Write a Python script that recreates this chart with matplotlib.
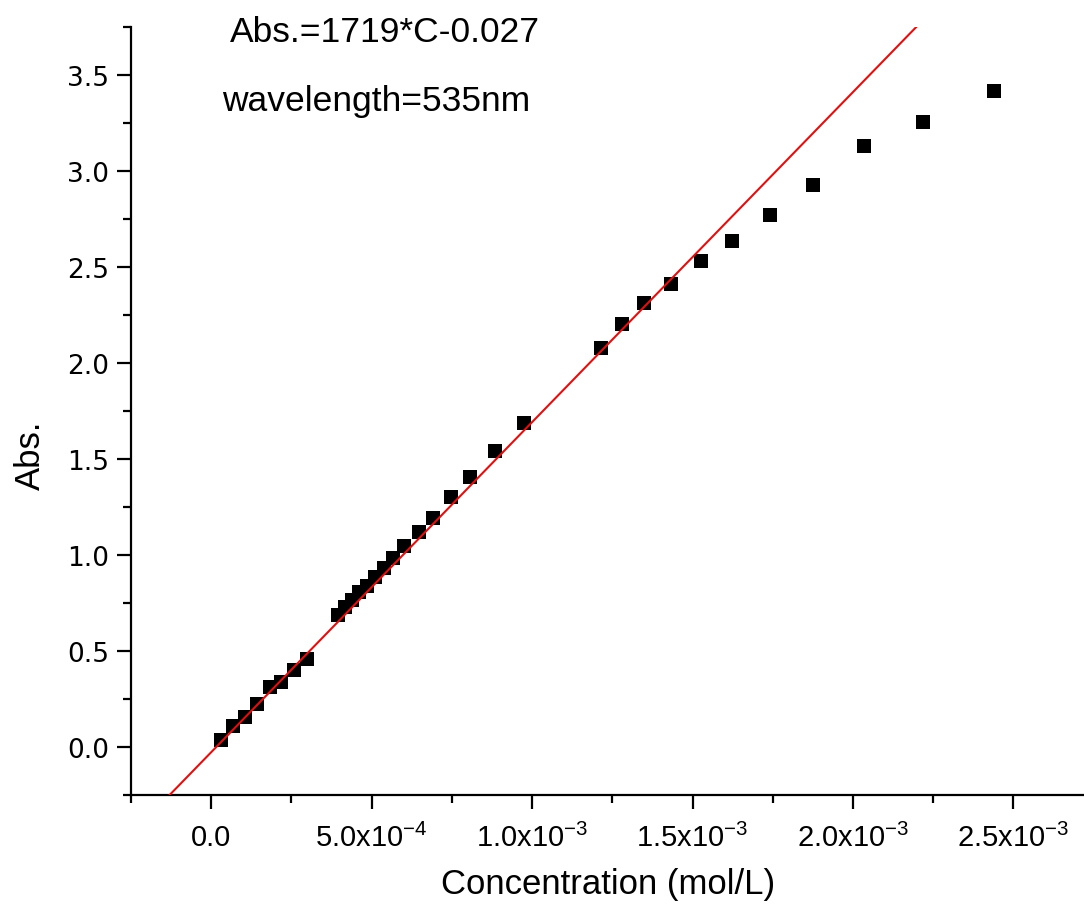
import numpy as np
import matplotlib
matplotlib.use("Agg")
import matplotlib.pyplot as plt
from matplotlib import font_manager
from matplotlib.ticker import MultipleLocator, FuncFormatter

# data
conc = [3.0e-5, 6.9e-5, 1.05e-4, 1.44e-4, 1.82e-4, 2.18e-4, 2.59e-4, 2.97e-4,
        3.96e-4, 4.18e-4, 4.40e-4, 4.62e-4, 4.84e-4, 5.09e-4, 5.37e-4, 5.68e-4,
        6.02e-4, 6.46e-4, 6.90e-4, 7.46e-4, 8.08e-4, 8.83e-4, 9.74e-4,
        1.216e-3, 1.281e-3, 1.350e-3, 1.434e-3, 1.525e-3, 1.624e-3, 1.741e-3,
        1.875e-3, 2.033e-3, 2.219e-3, 2.440e-3]
absorb = [0.038, 0.110, 0.158, 0.223, 0.313, 0.336, 0.401, 0.458,
          0.690, 0.731, 0.768, 0.805, 0.841, 0.883, 0.930, 0.982,
          1.045, 1.118, 1.191, 1.301, 1.405, 1.541, 1.688,
          2.079, 2.201, 2.315, 2.414, 2.530, 2.638, 2.769,
          2.929, 3.131, 3.257, 3.415]
slope = 1719
intercept = -0.027

names = {f.name for f in font_manager.fontManager.ttflist}
narrow = 'Liberation Sans Narrow' if 'Liberation Sans Narrow' in names else 'Liberation Sans'

plt.rcParams['mathtext.fontset'] = 'custom'
plt.rcParams['mathtext.rm'] = narrow
plt.rcParams['mathtext.it'] = narrow
plt.rcParams['mathtext.default'] = 'regular'

fig = plt.figure(figsize=(10.84, 9.12), dpi=100)
ax = fig.add_axes([131 / 1084, 116 / 912, 1 - 131 / 1084, (796 - 28) / 912])

xmin, xmax = -2.5e-4, 2.72e-3
ymin, ymax = -0.25, 3.75

# fitted line
xl = np.array([xmin, xmax])
ax.plot(xl, slope * xl + intercept, color='#e01010', lw=1.5, zorder=3)
ax.plot(conc, absorb, 's', color='black', ms=10.5, mew=0, zorder=2)

ax.set_xlim(xmin, xmax)
ax.set_ylim(ymin, ymax)

for s in ['top', 'right']:
    ax.spines[s].set_visible(False)
for s in ['left', 'bottom']:
    ax.spines[s].set_linewidth(1.6)

ax.xaxis.set_major_locator(MultipleLocator(5e-4))
ax.xaxis.set_minor_locator(MultipleLocator(2.5e-4))
ax.yaxis.set_major_locator(MultipleLocator(0.5))
ax.yaxis.set_minor_locator(MultipleLocator(0.25))


def xfmt(v, pos):
    if abs(v) < 1e-12:
        return '0.0'
    e = int(np.floor(np.log10(abs(v)) + 1e-9))
    m = v / 10 ** e
    return '%.1fx10$^{%d}$' % (m, e)


ax.xaxis.set_major_formatter(FuncFormatter(xfmt))
ax.yaxis.set_major_formatter(FuncFormatter(lambda v, p: '%.1f' % v))

ax.tick_params(which='major', direction='out', length=10, width=1.6)
ax.tick_params(which='minor', direction='out', length=6, width=1.6)
ax.tick_params(axis='x', which='major', pad=10)
ax.tick_params(axis='y', which='major', pad=6)
for t in ax.get_xticklabels():
    t.set_fontfamily(narrow)
    t.set_fontsize(21)
for t in ax.get_yticklabels():
    t.set_fontfamily('DejaVu Sans')
    t.set_fontsize(19)

fig.text(30 / 1084, 1 - 455 / 912, 'Abs.', rotation=90, ha='center', va='center',
         fontsize=25, family=narrow)
fig.text(608 / 1084, 1 - 885 / 912, 'Concentration (mol/L)', ha='center', va='center',
         fontsize=25, family=narrow)

fig.text(230 / 1084, 1 - 33 / 912, 'Abs.=1719*C-0.027', ha='left', va='center',
         fontsize=25.5, family='Liberation Sans')
fig.text(222 / 1084, 1 - 102 / 912, 'wavelength=535nm', ha='left', va='center',
         fontsize=25.5, family='Liberation Sans')

fig.savefig('out.png', dpi=100)
